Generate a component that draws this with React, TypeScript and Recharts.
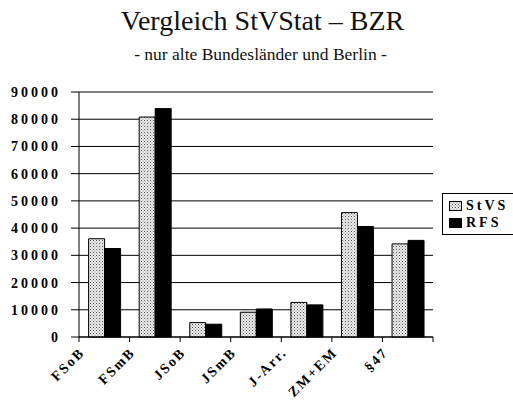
import React from 'react';
import { BarChart, Bar, XAxis, YAxis, CartesianGrid } from 'recharts';

// categories and the two series
const categories = ['FSoB', 'FSmB', 'JSoB', 'JSmB', 'J-Arr.', 'ZM+EM', '§47'];
const stvsValues = [36100, 80800, 5300, 9100, 12700, 45700, 34200];
const rfsValues = [32500, 83900, 4700, 10300, 11800, 40600, 35500];
const yTicks = [0, 10000, 20000, 30000, 40000, 50000, 60000, 70000, 80000, 90000];

const data = categories.map((name, i) => ({ name, stvs: stvsValues[i], rfs: rfsValues[i] }));

const serif = '"Liberation Serif", "DejaVu Serif", serif';

const XTick = (props: any) => {
    const { x, y, payload, index, width } = props;
    const band = (width || 354) / categories.length;
    return (
        <g>
            {/* small tick marks between categories */}
            <line x1={x - band / 2} x2={x - band / 2} y1={y - 8} y2={y - 3} stroke="#000" />
            {index === categories.length - 1 && (
                <line x1={x + band / 2} x2={x + band / 2} y1={y - 8} y2={y - 3} stroke="#000" />
            )}
            <g transform={`translate(${x - 22},${y + 5})`}>
                <text
                    transform="rotate(-45)"
                    textAnchor="end"
                    dominantBaseline="central"
                    fontFamily={serif}
                    fontWeight="bold"
                    fontSize={14}
                    letterSpacing={2}
                    fill="#000"
                >
                    {payload.value}
                </text>
            </g>
        </g>
    );
};

const LegendBox = () => (
    <div style={{ position: 'absolute', left: 442, top: 193, width: 80, height: 42, boxSizing: 'border-box', border: '1px solid #000', padding: '3px 6px', fontFamily: serif, fontWeight: 'bold', fontSize: 14, letterSpacing: 3, lineHeight: '17px', background: '#fff' }}>
        <div style={{ display: 'flex', alignItems: 'center' }}>
            <svg width={13} height={10} style={{ marginRight: 4 }}>
                <rect x={0.5} y={0.5} width={12} height={9} fill="url(#dots)" stroke="#000" />
            </svg>
            StVS
        </div>
        <div style={{ display: 'flex', alignItems: 'center' }}>
            <svg width={13} height={10} style={{ marginRight: 4 }}>
                <rect x={0} y={0} width={13} height={10} fill="#000" />
            </svg>
            RFS
        </div>
    </div>
);

export default function App() {
    return (
        <div style={{ position: 'absolute', left: 0, top: 0, width: 513, height: 400, background: '#fff', overflow: 'hidden' }}>
            <div style={{ position: 'absolute', top: 5, left: 6, width: 513, textAlign: 'center', fontFamily: serif, fontSize: 28, color: '#111' }}>
                Vergleich StVStat – BZR
            </div>
            <div style={{ position: 'absolute', top: 44, left: 4, width: 513, textAlign: 'center', fontFamily: serif, fontSize: 17.5, color: '#111' }}>
                - nur alte Bundesländer und Berlin -
            </div>
            <BarChart
                width={513}
                height={400}
                data={data}
                margin={{ top: 92, right: 80, bottom: 3, left: 0 }}
                barCategoryGap="19%"
                barGap={0}
            >
                <defs>
                    <pattern id="dots" width={3} height={3} patternUnits="userSpaceOnUse">
                        <rect width={3} height={3} fill="#ececec" />
                        <rect x={0} y={0} width={1} height={1} fill="#555" />
                        <rect x={1.5} y={1.5} width={1} height={1} fill="#888" />
                    </pattern>
                </defs>
                <CartesianGrid vertical={false} stroke="#000" strokeWidth={1} />
                <XAxis
                    dataKey="name"
                    interval={0}
                    height={60}
                    tick={<XTick />}
                    tickLine={false}
                    axisLine={{ stroke: '#000' }}
                />
                <YAxis
                    yAxisId="right"
                    orientation="right"
                    width={0}
                    domain={[0, 90000]}
                    tick={false}
                    tickLine={false}
                    axisLine={{ stroke: '#000' }}
                />
                <YAxis
                    domain={[0, 90000]}
                    ticks={yTicks}
                    width={79}
                    axisLine={{ stroke: '#000' }}
                    tickLine={{ stroke: '#000' }}
                    tickSize={8}
                    tickMargin={10}
                    tick={{ fill: '#000', fontFamily: serif, fontWeight: 'bold', fontSize: 14, letterSpacing: 3 }}
                />
                <Bar dataKey="stvs" name="StVS" fill="url(#dots)" stroke="#000" strokeWidth={1} isAnimationActive={false} />
                <Bar dataKey="rfs" name="RFS" fill="#000" stroke="#000" strokeWidth={1} isAnimationActive={false} />
            </BarChart>
            <LegendBox />
        </div>
    );
}
